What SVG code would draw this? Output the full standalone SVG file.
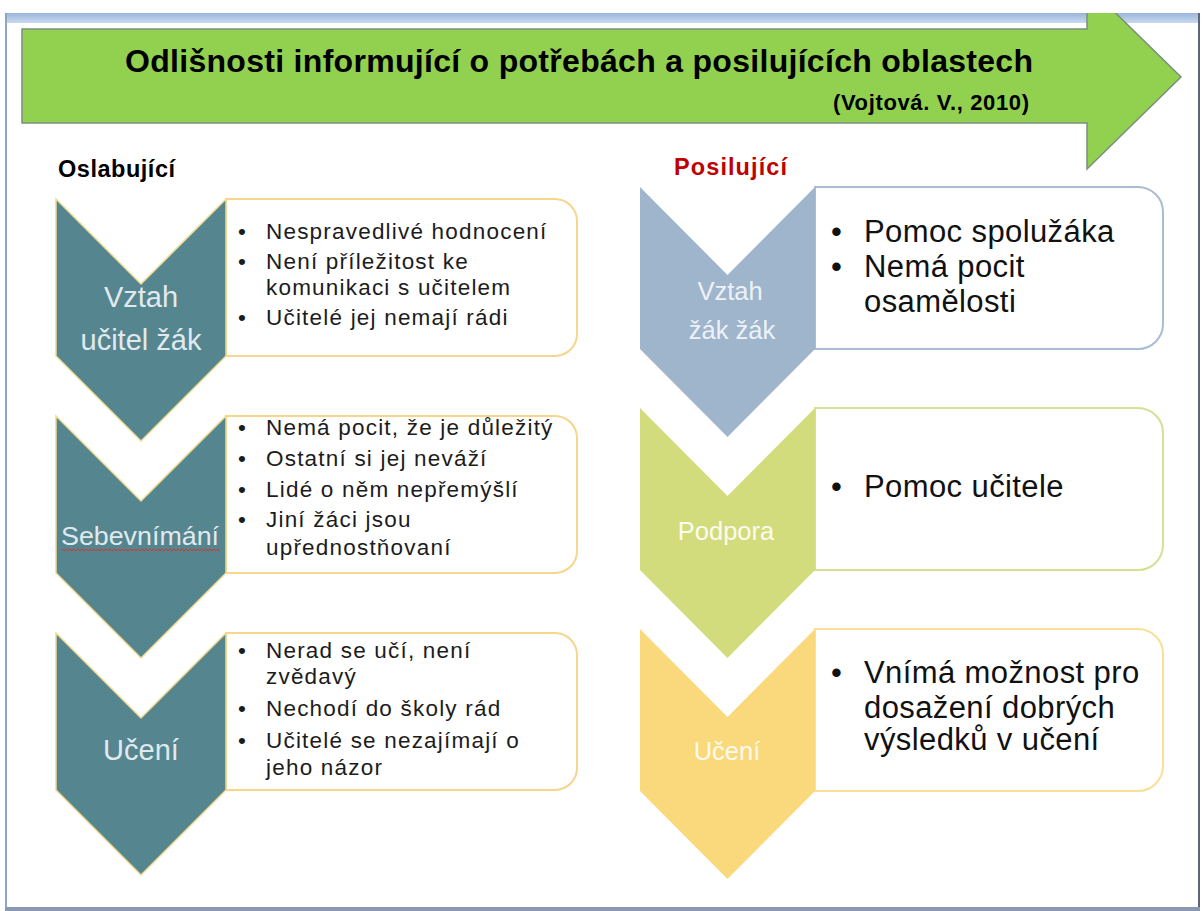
<svg xmlns="http://www.w3.org/2000/svg" width="1204" height="911" viewBox="0 0 1204 911">
<defs>
<linearGradient id="band" x1="0" y1="0" x2="0" y2="1"><stop offset="0" stop-color="#9ab6dc"/><stop offset="1" stop-color="#c9d9ee"/></linearGradient>
<clipPath id="slide"><rect x="5" y="13" width="1195" height="898"/></clipPath>
<pattern id="squig" x="0" y="0" width="4" height="4" patternUnits="userSpaceOnUse"><path d="M0,3 L2,1 L4,3" fill="none" stroke="#e0302a" stroke-width="1"/></pattern>
</defs>
<style>
.t{font-family:"Liberation Sans",Arial,Helvetica,sans-serif}
.body{font-size:22.5px;fill:#1c1c1c;letter-spacing:1.2px}
.big{font-size:31px;fill:#111;letter-spacing:0.4px}
.lab{font-size:29px;fill:#e0eaee;text-anchor:middle}
.rlab{font-size:25.5px;text-anchor:middle}
.lchev{fill:#55858f;stroke:#f0da94;stroke-width:1.5}
.lbox{fill:#ffffff;stroke:#f5d68a;stroke-width:2}
.rbox{fill:#ffffff;stroke-width:2}
</style>
<rect x="0" y="0" width="1204" height="911" fill="#ffffff"/>
<g id="frame">
<rect x="5" y="13" width="1195" height="10" fill="url(#band)"/>
<rect x="5" y="13" width="2" height="898" fill="#8ea6c6"/>
<rect x="1198" y="13" width="2" height="898" fill="#5a667a"/>
<rect x="5" y="907" width="1195" height="4" fill="#8a98b2"/>
</g>
<g id="title-arrow" clip-path="url(#slide)">
<polygon points="22,29 1087,29 1087,-15 1181,77 1087,169 1087,123 22,123" fill="#92d050" stroke="#7b8e7e" stroke-width="1.5"/>
<text class="t" x="579" y="72" font-size="32" font-weight="bold" fill="#000" text-anchor="middle" textLength="908" lengthAdjust="spacing">Odlišnosti informující o potřebách a posilujících oblastech</text>
<text class="t" x="833" y="110" font-size="22" font-weight="bold" fill="#000" textLength="196" lengthAdjust="spacing">(Vojtová. V., 2010)</text>
</g>
<g id="heading-left"><text class="t" x="58" y="177" font-size="23.5" font-weight="bold" fill="#000" textLength="117" lengthAdjust="spacing">Oslabující</text></g>
<g id="heading-right"><text class="t" x="674" y="175" font-size="23.5" font-weight="bold" fill="#c00000" textLength="113" lengthAdjust="spacing">Posilující</text></g>

<g id="connectors"/>

<g id="left-1">
<path class="lbox" d="M226,199 H555 A22,22 0 0 1 577,221 V334 A22,22 0 0 1 555,356 H226 Z"/>
<polygon class="lchev" points="56,199 141,284 226,199 226,356 141,441 56,356"/>
<text class="t lab" x="141" y="307">Vztah</text>
<text class="t lab" x="141" y="350">učitel žák</text>
<g class="t body">
<text x="238" y="239">•</text><text x="266" y="239">Nespravedlivé hodnocení</text>
<text x="238" y="269">•</text><text x="266" y="269">Není příležitost ke</text>
<text x="266" y="295">komunikaci s učitelem</text>
<text x="238" y="325">•</text><text x="266" y="325">Učitelé jej nemají rádi</text>
</g>
</g>

<g id="left-2">
<path class="lbox" d="M226,416 H555 A22,22 0 0 1 577,438 V551 A22,22 0 0 1 555,573 H226 Z"/>
<polygon class="lchev" points="56,416 141,501 226,416 226,573 141,658 56,573"/>
<text class="t" x="140" y="545" font-size="26" fill="#e0eaee" text-anchor="middle" textLength="158" lengthAdjust="spacingAndGlyphs">Sebevnímání</text>
<rect x="62" y="549" width="158" height="4" fill="url(#squig)"/>
<g class="t body">
<text x="238" y="435">•</text><text x="266" y="435">Nemá pocit, že je důležitý</text>
<text x="238" y="466">•</text><text x="266" y="466">Ostatní si jej neváží</text>
<text x="238" y="497">•</text><text x="266" y="497">Lidé o něm nepřemýšlí</text>
<text x="238" y="527">•</text><text x="266" y="527">Jiní žáci jsou</text>
<text x="266" y="555">upřednostňovaní</text>
</g>
</g>

<g id="left-3">
<path class="lbox" d="M226,633 H555 A22,22 0 0 1 577,655 V768 A22,22 0 0 1 555,790 H226 Z"/>
<polygon class="lchev" points="56,633 141,718 226,633 226,790 141,875 56,790"/>
<text class="t lab" x="141" y="760">Učení</text>
<g class="t body">
<text x="238" y="658">•</text><text x="266" y="658">Nerad se učí, není</text>
<text x="266" y="684">zvědavý</text>
<text x="238" y="716">•</text><text x="266" y="716">Nechodí do školy rád</text>
<text x="238" y="748">•</text><text x="266" y="748">Učitelé se nezajímají o</text>
<text x="266" y="775">jeho názor</text>
</g>
</g>

<g id="right-1">
<path class="rbox" stroke="#a9bcd3" d="M815,187 H1138 A25,25 0 0 1 1163,212 V324 A25,25 0 0 1 1138,349 H815 Z"/>
<polygon fill="#9fb5cc" points="640,187 727.5,275 815,187 815,349 727.5,437 640,349"/>
<text class="t rlab" x="730" y="300" fill="#edf2f7">Vztah</text>
<text class="t rlab" x="732" y="339" fill="#edf2f7">žák  žák</text>
<g class="t big">
<text x="831" y="242">•</text><text x="864" y="242">Pomoc spolužáka</text>
<text x="831" y="277">•</text><text x="864" y="277">Nemá pocit</text>
<text x="864" y="312">osamělosti</text>
</g>
</g>

<g id="right-2">
<path class="rbox" stroke="#d6df93" d="M815,408 H1138 A25,25 0 0 1 1163,433 V545 A25,25 0 0 1 1138,570 H815 Z"/>
<polygon fill="#d3dc7c" points="640,408 727.5,496 815,408 815,570 727.5,658 640,570"/>
<text class="t rlab" x="726" y="540" font-size="26.5" fill="#fbfbf0">Podpora</text>
<g class="t big">
<text x="831" y="497">•</text><text x="864" y="497">Pomoc učitele</text>
</g>
</g>

<g id="right-3">
<path class="rbox" stroke="#fbdf94" d="M815,629 H1138 A25,25 0 0 1 1163,654 V766 A25,25 0 0 1 1138,791 H815 Z"/>
<polygon fill="#fad87c" points="640,629 727.5,717 815,629 815,791 727.5,879 640,791"/>
<text class="t rlab" x="727" y="760" font-size="26" fill="#fffbee">Učení</text>
<g class="t big">
<text x="831" y="683">•</text><text x="864" y="683">Vnímá možnost pro</text>
<text x="864" y="718">dosažení dobrých</text>
<text x="864" y="750">výsledků v učení</text>
</g>
</g>
</svg>
